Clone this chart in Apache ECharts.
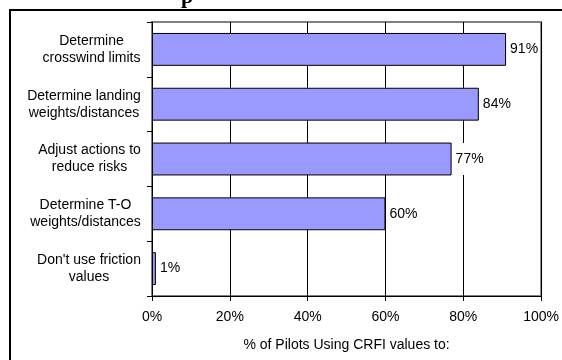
<!DOCTYPE html>
<html>
<head>
<meta charset="utf-8">
<script src="https://cdn.jsdelivr.net/npm/echarts@6/dist/echarts.min.js"></script>
<style>
  html, body { margin: 0; padding: 0; background: #fff; }
  #chart { width: 562px; height: 360px; }
</style>
</head>
<body>
<div id="chart"></div>
<script>
// Survey answers, top to bottom
const categories = [
  'Determine\ncrosswind limits',
  'Determine landing\nweights/distances',
  'Adjust actions to\nreduce risks',
  'Determine T-O\nweights/distances',
  "Don't use friction\nvalues"
];
// Share of pilots (%)
const values = [91, 84, 77, 60, 1];
// Horizontal axis ticks (%)
const xTicks = [0, 20, 40, 60, 80, 100];
const axisTitle = '% of Pilots Using CRFI values to:';

const FONT = '"Liberation Sans", Arial, sans-serif';
const FS = 14;

// Measure label lines so each multi-line label is a right-aligned block
// whose lines are centred inside it.
const ctx = document.createElement('canvas').getContext('2d');
ctx.font = FS + 'px ' + FONT;
const rich = {};
categories.forEach((c, i) => {
  const w = Math.max(...c.split('\n').map(l => ctx.measureText(l).width));
  rich['c' + i] = { width: Math.ceil(w), align: 'center', fontSize: FS, fontFamily: FONT, color: '#000', lineHeight: 17 };
});

const chart = echarts.init(document.getElementById('chart'), null, { renderer: 'canvas' });
chart.setOption({
  animation: false,
  backgroundColor: '#fff',
  textStyle: { fontFamily: FONT },
  grid: {
    left: 152, right: 15, top: 22, bottom: 64,
    show: true, borderColor: '#808080', borderWidth: 2, backgroundColor: 'transparent'
  },
  xAxis: {
    type: 'value',
    min: xTicks[0], max: xTicks[xTicks.length - 1], interval: xTicks[1] - xTicks[0],
    axisLine: { show: true, lineStyle: { color: '#000', width: 1 } },
    axisTick: { show: true, length: 5, lineStyle: { color: '#000' } },
    axisLabel: { formatter: '{value}%', fontSize: FS, color: '#000', margin: 14, fontFamily: FONT },
    splitLine: { show: true, lineStyle: { color: '#000', width: 1 } },
    name: axisTitle,
    nameLocation: 'middle',
    nameGap: 42,
    nameTextStyle: { fontSize: FS, color: '#000', fontFamily: FONT }
  },
  yAxis: {
    type: 'category',
    inverse: true,
    data: categories,
    axisLine: { show: true, lineStyle: { color: '#000', width: 1 } },
    axisTick: { show: true, length: 5, lineStyle: { color: '#000' } },
    axisLabel: {
      margin: 11,
      formatter: (v, i) => v.split('\n').map(l => '{c' + i + '|' + l + '}').join('\n'),
      rich: rich
    },
    splitLine: { show: false }
  },
  graphic: [
    // chart frame (left and top edges)
    { type: 'line', shape: { x1: 10, y1: 10, x2: 10, y2: 360 }, style: { stroke: '#000', lineWidth: 2 }, z: 100 },
    { type: 'line', shape: { x1: 9, y1: 10, x2: 562, y2: 10 }, style: { stroke: '#000', lineWidth: 2 }, z: 100 },
    // bottom of the page heading above the frame
    { type: 'text', left: 181, top: -14, style: { text: 'p', font: 'bold 22px "Liberation Serif", "Times New Roman", serif', fill: '#000' }, z: 100 }
  ],
  series: [{
    type: 'bar',
    data: values,
    barCategoryGap: '40%',
    itemStyle: { color: '#9999FF', borderColor: '#000', borderWidth: 1 },
    label: {
      show: true, position: 'right', distance: 2, formatter: '{c}%',
      fontSize: FS, color: '#000', fontFamily: FONT,
      backgroundColor: '#fff', padding: [9, 2, 9, 2]
    }
  }]
});
</script>
</body>
</html>
